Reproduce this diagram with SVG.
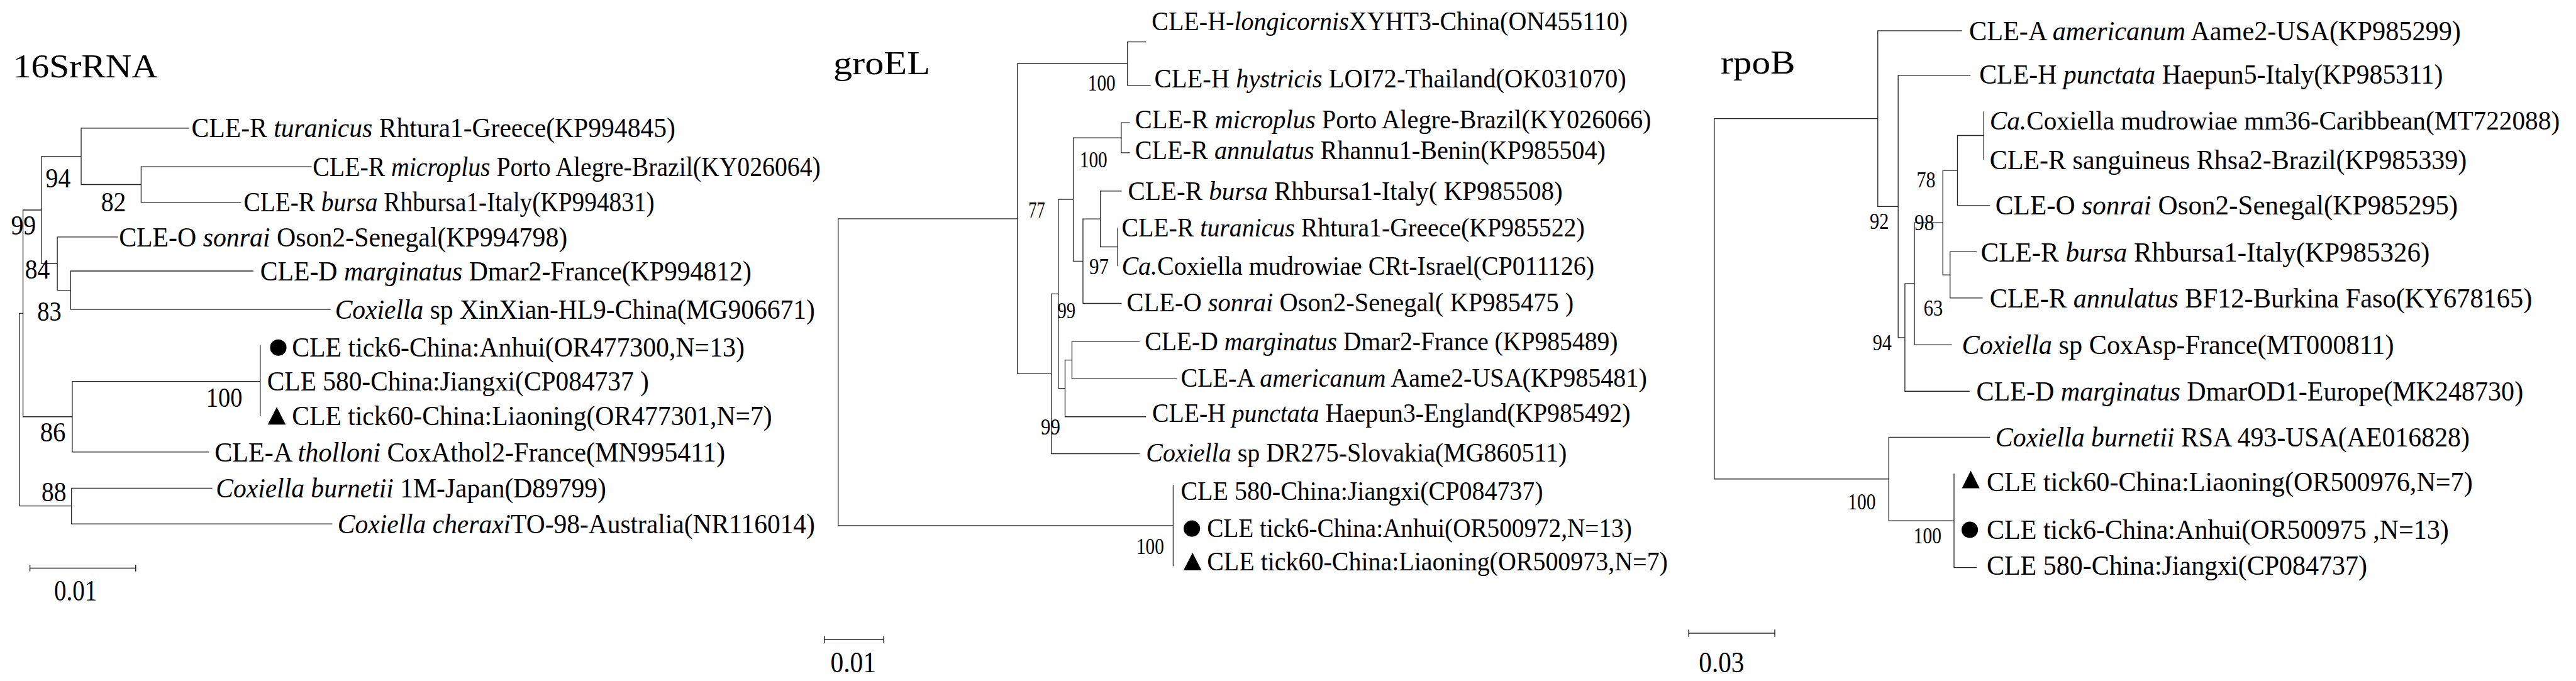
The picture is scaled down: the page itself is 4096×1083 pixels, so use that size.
<svg xmlns="http://www.w3.org/2000/svg" width="4096" height="1083" viewBox="0 0 4096 1083">
<defs>
<style>
text{font-family:"Liberation Serif","Times New Roman",serif;fill:#000}
.l1{font-size:17px}.l2{font-size:16px}.l3{font-size:16.8px}
.b1{font-size:17px}.b2{font-size:13.5px}.b3{font-size:14px}
.ti{font-size:20.5px}.sc{font-size:18px}
.i{font-style:italic}
.br{fill:none;stroke:#262626;stroke-width:0.5;stroke-linecap:square}
.sb{fill:none;stroke:#222;stroke-width:0.55}
.sym{fill:#000}
</style>
</defs>
<rect width="4096" height="1083" fill="#fff"/>
<g transform="scale(2.61224)">

<!-- ===== Tree 1: 16SrRNA ===== -->
<g id="tree-16S">
<text class="ti" x="8" y="47" textLength="88" lengthAdjust="spacingAndGlyphs">16SrRNA</text>
<g id="t1-connectors">
<path class="br" d="M11.8,190.8V308.05M11.8,190.8H14M14,127.85V253.7M14,127.85H25.3M25.3,95.2V160.5M25.3,95.2H49.4M49.4,78V112.35M49.4,78H114.6M49.4,112.35H85.9M85.9,101.5V123.2M85.9,101.5H189.5M85.9,123.2H146.6M25.3,160.5H34.9M34.9,144.3V176.7M34.9,144.3H71.6M34.9,176.7H43M43,165V188.4M43,165H154M43,188.4H201M14,253.7H44M44,232.2V275.2M44,232.2H158.4M158.4,210.2V253.1M44,275.2H127M11.8,308.05H43.5M43.5,297.2V318.9M43.5,297.2H129M43.5,318.9H202"/>
</g>
<g id="t1-n94"><text class="b1" x="27.8" y="114.2" textLength="15.2" lengthAdjust="spacingAndGlyphs">94</text></g>
<g id="t1-n82"><text class="b1" x="61.5" y="128.5" textLength="15.2" lengthAdjust="spacingAndGlyphs">82</text></g>
<g id="t1-n99"><text class="b1" x="6.7" y="142.9" textLength="15.2" lengthAdjust="spacingAndGlyphs">99</text></g>
<g id="t1-n84"><text class="b1" x="15.2" y="169.6" textLength="15.1" lengthAdjust="spacingAndGlyphs">84</text></g>
<g id="t1-n83"><text class="b1" x="22.7" y="195.4" textLength="14.7" lengthAdjust="spacingAndGlyphs">83</text></g>
<g id="t1-n86"><text class="b1" x="24.4" y="268.7" textLength="15.6" lengthAdjust="spacingAndGlyphs">86</text></g>
<g id="t1-n88"><text class="b1" x="25.3" y="305.2" textLength="15.1" lengthAdjust="spacingAndGlyphs">88</text></g>
<g id="t1-n100"><text class="b1" x="125.5" y="247.8" textLength="22" lengthAdjust="spacingAndGlyphs">100</text></g>

<g id="t1-leaf-turanicus"><text class="l1" x="116.6" y="83.6" textLength="294.5" lengthAdjust="spacingAndGlyphs">CLE-R <tspan class="i">turanicus</tspan> Rhtura1-Greece(KP994845)</text></g>
<g id="t1-leaf-microplus"><text class="l1" x="190.4" y="107.1" textLength="309.1" lengthAdjust="spacingAndGlyphs">CLE-R <tspan class="i">microplus</tspan> Porto Alegre-Brazil(KY026064)</text></g>
<g id="t1-leaf-bursa"><text class="l1" x="148.3" y="128.8" textLength="250.1" lengthAdjust="spacingAndGlyphs">CLE-R <tspan class="i">bursa</tspan> Rhbursa1-Italy(KP994831)</text></g>
<g id="t1-leaf-sonrai"><text class="l1" x="72.4" y="149.9" textLength="273" lengthAdjust="spacingAndGlyphs">CLE-O <tspan class="i">sonrai</tspan> Oson2-Senegal(KP994798)</text></g>
<g id="t1-leaf-marginatus"><text class="l1" x="158.4" y="170.6" textLength="299" lengthAdjust="spacingAndGlyphs">CLE-D <tspan class="i">marginatus</tspan> Dmar2-France(KP994812)</text></g>
<g id="t1-leaf-xinxian"><text class="l1" x="203.9" y="194" textLength="292.2" lengthAdjust="spacingAndGlyphs"><tspan class="i">Coxiella</tspan> sp XinXian-HL9-China(MG906671)</text></g>
<g id="t1-leaf-tick6"><circle class="sym" cx="169.4" cy="211.6" r="5"/><text class="l1" x="177.7" y="217.2" textLength="275.5" lengthAdjust="spacingAndGlyphs">CLE tick6-China:Anhui(OR477300,N=13)</text></g>
<g id="t1-leaf-580"><text class="l1" x="162.6" y="237.8" textLength="232.4" lengthAdjust="spacingAndGlyphs">CLE 580-China:Jiangxi(CP084737 )</text></g>
<g id="t1-leaf-tick60"><polygon class="sym" points="163,258.5 173.9,258.5 168.45,247.8"/><text class="l1" x="177.7" y="258.7" textLength="292.3" lengthAdjust="spacingAndGlyphs">CLE tick60-China:Liaoning(OR477301,N=7)</text></g>
<g id="t1-leaf-tholloni"><text class="l1" x="130.6" y="280.8" textLength="310.8" lengthAdjust="spacingAndGlyphs">CLE-A <tspan class="i">tholloni</tspan> CoxAthol2-France(MN995411)</text></g>
<g id="t1-leaf-burnetii"><text class="l1" x="131.4" y="302.8" textLength="237.6" lengthAdjust="spacingAndGlyphs"><tspan class="i">Coxiella burnetii</tspan> 1M-Japan(D89799)</text></g>
<g id="t1-leaf-cheraxi"><text class="l1" x="205.5" y="324.5" textLength="290.6" lengthAdjust="spacingAndGlyphs"><tspan class="i">Coxiella cheraxi</tspan>TO-98-Australia(NR116014)</text></g>

<g id="t1-scale">
<path class="sb" d="M18.2,345.9H82.6M18.2,343.9V347.9M82.6,343.9V347.9"/>
<text class="sc" x="32.9" y="365.6" textLength="26.1" lengthAdjust="spacingAndGlyphs">0.01</text>
</g>
</g>

<!-- ===== Tree 2: groEL ===== -->
<g id="tree-groEL">
<text class="ti" x="507.2" y="45.2" textLength="59" lengthAdjust="spacingAndGlyphs">groEL</text>
<g id="t2-connectors">
<path class="br" d="M510.2,133.15V320M510.2,133.15H619.3M510.2,320H714.1M714.1,295.5V344.5M619.3,38.75V227.55M619.3,38.75H686.3M686.3,25.5V52M686.3,25.5H697.3M686.3,52H700.2M619.3,227.55H640M640,178.9V276.2M640,276.2H693.4M640,178.9H644.2M644.2,121.4V236.45M644.2,121.4H653.3M653.3,83.85V159M653.3,83.85H682.5M682.5,74.7V93M682.5,74.7H687.5M682.5,93H687.5M653.3,159H659.2M659.2,133.3V184.7M659.2,184.7H682.5M659.2,133.3H669.8M669.8,116.3V150.3M669.8,116.3H682.5M669.8,150.3H680.3M680.3,138.8V161.8M644.2,236.45H648.3M648.3,219.2V253.7M648.3,253.7H697.3M648.3,219.2H652.5M652.5,207.8V230.6M652.5,207.8H693.4M652.5,230.6H716.2"/>
</g>
<g id="t2-n100a"><text class="b2" x="662.2" y="55" textLength="16.8" lengthAdjust="spacingAndGlyphs">100</text></g>
<g id="t2-n100b"><text class="b2" x="657.2" y="101.7" textLength="16.8" lengthAdjust="spacingAndGlyphs">100</text></g>
<g id="t2-n77"><text class="b2" x="626" y="132.5" textLength="10.1" lengthAdjust="spacingAndGlyphs">77</text></g>
<g id="t2-n97"><text class="b2" x="663" y="167" textLength="11.9" lengthAdjust="spacingAndGlyphs">97</text></g>
<g id="t2-n99a"><text class="b2" x="643.7" y="193.8" textLength="11" lengthAdjust="spacingAndGlyphs">99</text></g>
<g id="t2-n99b"><text class="b2" x="633.6" y="264.4" textLength="11.8" lengthAdjust="spacingAndGlyphs">99</text></g>
<g id="t2-n100c"><text class="b2" x="691.7" y="337.3" textLength="16.8" lengthAdjust="spacingAndGlyphs">100</text></g>

<g id="t2-leaf-longicornis"><text class="l2" x="701" y="18.4" textLength="289.8" lengthAdjust="spacingAndGlyphs">CLE-H-<tspan class="i">longicornis</tspan>XYHT3-China(ON455110)</text></g>
<g id="t2-leaf-hystricis"><text class="l2" x="702.7" y="53.1" textLength="287.2" lengthAdjust="spacingAndGlyphs">CLE-H <tspan class="i">hystricis</tspan> LOI72-Thailand(OK031070)</text></g>
<g id="t2-leaf-microplus"><text class="l2" x="690.9" y="78" textLength="314.2" lengthAdjust="spacingAndGlyphs">CLE-R <tspan class="i">microplus</tspan> Porto Alegre-Brazil(KY026066)</text></g>
<g id="t2-leaf-annulatus"><text class="l2" x="690.9" y="97" textLength="286.4" lengthAdjust="spacingAndGlyphs">CLE-R <tspan class="i">annulatus</tspan> Rhannu1-Benin(KP985504)</text></g>
<g id="t2-leaf-bursa"><text class="l2" x="686.6" y="121.9" textLength="264.6" lengthAdjust="spacingAndGlyphs">CLE-R <tspan class="i">bursa</tspan>  Rhbursa1-Italy( KP985508)</text></g>
<g id="t2-leaf-turanicus"><text class="l2" x="682.7" y="144.1" textLength="281.9" lengthAdjust="spacingAndGlyphs">CLE-R <tspan class="i">turanicus</tspan> Rhtura1-Greece(KP985522)</text></g>
<g id="t2-leaf-mudrowiae"><text class="l2" x="682.7" y="167.1" textLength="287.8" lengthAdjust="spacingAndGlyphs"><tspan class="i">Ca.</tspan>Coxiella mudrowiae CRt-Israel(CP011126)</text></g>
<g id="t2-leaf-sonrai"><text class="l2" x="685.8" y="189.4" textLength="272.1" lengthAdjust="spacingAndGlyphs">CLE-O <tspan class="i">sonrai</tspan>  Oson2-Senegal( KP985475 )</text></g>
<g id="t2-leaf-marginatus"><text class="l2" x="696.8" y="213.1" textLength="288" lengthAdjust="spacingAndGlyphs">CLE-D <tspan class="i">marginatus</tspan> Dmar2-France (KP985489)</text></g>
<g id="t2-leaf-americanum"><text class="l2" x="718.7" y="235.5" textLength="283.8" lengthAdjust="spacingAndGlyphs">CLE-A <tspan class="i">americanum</tspan> Aame2-USA(KP985481)</text></g>
<g id="t2-leaf-punctata"><text class="l2" x="701.3" y="256.9" textLength="291.1" lengthAdjust="spacingAndGlyphs">CLE-H <tspan class="i">punctata</tspan> Haepun3-England(KP985492)</text></g>
<g id="t2-leaf-dr275"><text class="l2" x="697.6" y="280.8" textLength="256.1" lengthAdjust="spacingAndGlyphs"><tspan class="i">Coxiella</tspan> sp DR275-Slovakia(MG860511)</text></g>
<g id="t2-leaf-580"><text class="l2" x="718.7" y="304.3" textLength="220.6" lengthAdjust="spacingAndGlyphs">CLE 580-China:Jiangxi(CP084737)</text></g>
<g id="t2-leaf-tick6"><circle class="sym" cx="725.5" cy="321.8" r="5"/><text class="l2" x="734.7" y="327.1" textLength="258.6" lengthAdjust="spacingAndGlyphs">CLE tick6-China:Anhui(OR500972,N=13)</text></g>
<g id="t2-leaf-tick60"><polygon class="sym" points="720.4,347.2 731.4,347.2 725.9,336.5"/><text class="l2" x="734.7" y="347.1" textLength="280.5" lengthAdjust="spacingAndGlyphs">CLE tick60-China:Liaoning(OR500973,N=7)</text></g>

<g id="t2-scale">
<path class="sb" d="M501.8,389.4H537.9M501.8,387.2V391.6M537.9,387.2V391.6"/>
<text class="sc" x="505.5" y="409.2" textLength="27.8" lengthAdjust="spacingAndGlyphs">0.01</text>
</g>
</g>

<!-- ===== Tree 3: rpoB ===== -->
<g id="tree-rpoB">
<text class="ti" x="1047.4" y="44.6" textLength="45.4" lengthAdjust="spacingAndGlyphs">rpoB</text>
<g id="t3-connectors">
<path class="br" d="M1043.5,72.2V291.6M1043.5,72.2H1143M1143,18.7V125.7M1143,18.7H1194.1M1143,125.7H1155.4M1155.4,45.9V205.5M1155.4,45.9H1199.2M1155.4,205.5H1159.5M1159.5,172.75V238.2M1159.5,238.2H1198.6M1159.5,172.75H1165.3M1165.3,135.6V209.9M1165.3,209.9H1187.9M1165.3,135.6H1182.6M1182.6,103.8V167.35M1182.6,103.8H1191.5M1191.5,82.5V125.1M1191.5,125.1H1211.1M1191.5,82.5H1207.5M1207.5,68.1V96.9M1182.6,167.35H1187M1187,153.3V181.4M1187,153.3H1203M1187,181.4H1206.6M1043.5,291.6H1149.7M1149.7,266.2V317M1149.7,266.2H1211.1M1149.7,317H1189.4M1189.4,288.6V345.5M1189.4,345.5H1203"/>
</g>
<g id="t3-n92"><text class="b3" x="1138.1" y="139.5" textLength="11.6" lengthAdjust="spacingAndGlyphs">92</text></g>
<g id="t3-n78"><text class="b3" x="1166.6" y="114" textLength="11.5" lengthAdjust="spacingAndGlyphs">78</text></g>
<g id="t3-n98"><text class="b3" x="1165.3" y="140.2" textLength="12" lengthAdjust="spacingAndGlyphs">98</text></g>
<g id="t3-n63"><text class="b3" x="1170.9" y="192.2" textLength="11.7" lengthAdjust="spacingAndGlyphs">63</text></g>
<g id="t3-n94"><text class="b3" x="1139.9" y="213.1" textLength="11.6" lengthAdjust="spacingAndGlyphs">94</text></g>
<g id="t3-n100a"><text class="b3" x="1124.8" y="310.1" textLength="16.9" lengthAdjust="spacingAndGlyphs">100</text></g>
<g id="t3-n100b"><text class="b3" x="1164.8" y="330.8" textLength="16.9" lengthAdjust="spacingAndGlyphs">100</text></g>

<g id="t3-leaf-americanum"><text class="l3" x="1198.6" y="24.6" textLength="299.3" lengthAdjust="spacingAndGlyphs">CLE-A <tspan class="i">americanum</tspan> Aame2-USA(KP985299)</text></g>
<g id="t3-leaf-punctata"><text class="l3" x="1204.8" y="50.8" textLength="282.2" lengthAdjust="spacingAndGlyphs">CLE-H <tspan class="i">punctata</tspan> Haepun5-Italy(KP985311)</text></g>
<g id="t3-leaf-mudrowiae"><text x="1211.1" y="78.8" style="font-size:16px" textLength="347" lengthAdjust="spacingAndGlyphs"><tspan class="i">Ca.</tspan>Coxiella mudrowiae mm36-Caribbean(MT722088)</text></g>
<g id="t3-leaf-sanguineus"><text class="l3" x="1211.1" y="102.8" textLength="290.4" lengthAdjust="spacingAndGlyphs">CLE-R sanguineus Rhsa2-Brazil(KP985339)</text></g>
<g id="t3-leaf-sonrai"><text class="l3" x="1214.6" y="130.4" textLength="281.5" lengthAdjust="spacingAndGlyphs">CLE-O <tspan class="i">sonrai</tspan>  Oson2-Senegal(KP985295)</text></g>
<g id="t3-leaf-bursa"><text class="l3" x="1205.7" y="159.1" textLength="273.2" lengthAdjust="spacingAndGlyphs">CLE-R <tspan class="i">bursa</tspan>  Rhbursa1-Italy(KP985326)</text></g>
<g id="t3-leaf-annulatus"><text class="l3" x="1211.1" y="187.1" textLength="330.2" lengthAdjust="spacingAndGlyphs">CLE-R <tspan class="i">annulatus</tspan> BF12-Burkina Faso(KY678165)</text></g>
<g id="t3-leaf-coxasp"><text class="l3" x="1194.2" y="215.5" textLength="263" lengthAdjust="spacingAndGlyphs"><tspan class="i">Coxiella</tspan> sp CoxAsp-France(MT000811)</text></g>
<g id="t3-leaf-marginatus"><text class="l3" x="1203" y="243.8" textLength="332.9" lengthAdjust="spacingAndGlyphs">CLE-D <tspan class="i">marginatus</tspan> DmarOD1-Europe(MK248730)</text></g>
<g id="t3-leaf-burnetii"><text class="l3" x="1214.6" y="271.7" textLength="288.7" lengthAdjust="spacingAndGlyphs"><tspan class="i">Coxiella burnetii</tspan> RSA 493-USA(AE016828)</text></g>
<g id="t3-leaf-tick60"><polygon class="sym" points="1194.2,297.3 1205,297.3 1199.6,286.5"/><text class="l3" x="1209.3" y="299" textLength="295.8" lengthAdjust="spacingAndGlyphs">CLE tick60-China:Liaoning(OR500976,N=7)</text></g>
<g id="t3-leaf-tick6"><circle class="sym" cx="1199" cy="322.5" r="5"/><text class="l3" x="1209.3" y="328.1" textLength="281.3" lengthAdjust="spacingAndGlyphs">CLE tick6-China:Anhui(OR500975 ,N=13)</text></g>
<g id="t3-leaf-580"><text class="l3" x="1209.3" y="349.7" textLength="231.6" lengthAdjust="spacingAndGlyphs">CLE 580-China:Jiangxi(CP084737)</text></g>

<g id="t3-scale">
<path class="sb" d="M1027.9,385.5H1080.3M1027.9,383.3V387.7M1080.3,383.3V387.7" stroke="#555"/>
<text class="sc" x="1034.1" y="409.2" textLength="27.6" lengthAdjust="spacingAndGlyphs" fill="#333">0.03</text>
</g>
</g>

</g>
</svg>
